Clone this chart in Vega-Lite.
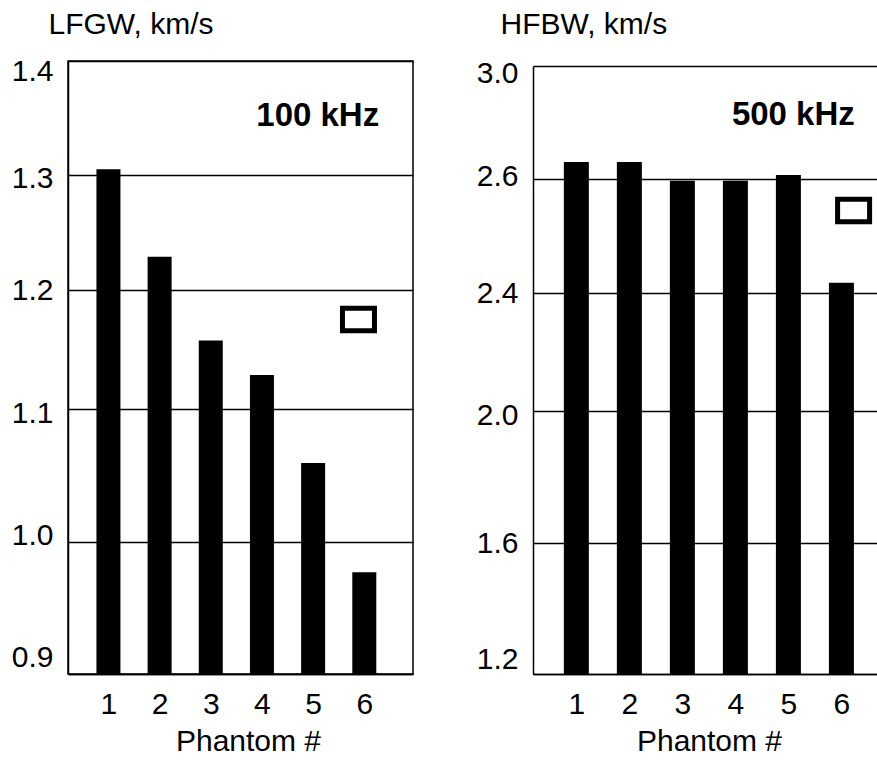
{
  "$schema": "https://vega.github.io/schema/vega-lite/v6.json",
  "padding": {"left": 10, "top": 8, "right": 0, "bottom": 0},
  "background": "white",
  "bounds": "flush",
  "spacing": 120,
  "config": {
    "font": "Liberation Sans",
    "axis": {
      "labelFont": "Liberation Sans",
      "titleFont": "Liberation Sans",
      "labelFontSize": 30,
      "titleFontSize": 30,
      "labelColor": "black",
      "titleColor": "black",
      "titleFontWeight": "normal",
      "ticks": false,
      "domainColor": "black",
      "domainWidth": 1.5,
      "gridColor": "black",
      "gridWidth": 1.5,
      "gridOpacity": 1
    }
  },
  "datasets": {
    "lfgw": [
      {"phantom": 1, "velocity": 1.305},
      {"phantom": 2, "velocity": 1.229},
      {"phantom": 3, "velocity": 1.1575},
      {"phantom": 4, "velocity": 1.1286},
      {"phantom": 5, "velocity": 1.0594},
      {"phantom": 6, "velocity": 0.977}
    ],
    "lfgw_note": [{"phantom": 5.09, "velocity": 1.352, "label": "100 kHz"}],
    "lfgw_box": [{"phantom": 5.886, "velocity": 1.1752}],
    "hfbw": [
      {"phantom": 1, "velocity": 2.66},
      {"phantom": 2, "velocity": 2.66},
      {"phantom": 3, "velocity": 2.597},
      {"phantom": 4, "velocity": 2.597},
      {"phantom": 5, "velocity": 2.614},
      {"phantom": 6, "velocity": 2.418}
    ],
    "hfbw_note": [{"phantom": 5.093, "velocity": 2.825, "label": "500 kHz"}],
    "hfbw_box": [{"phantom": 6.23, "velocity": 2.5447}]
  },
  "hconcat": [
    {
      "width": 345,
      "height": 613,
      "view": {"stroke": "black", "strokeWidth": 1.5},
      "layer": [
        {
          "data": {"name": "lfgw"},
          "mark": {"type": "bar", "color": "black", "size": 24},
          "encoding": {
            "x": {
              "field": "phantom", "type": "quantitative",
              "scale": {"domain": [0.3074, 6.854], "nice": false, "zero": false},
              "axis": {
                "values": [1, 2, 3, 4, 5, 6], "format": "d", "grid": false,
                "labelBaseline": "middle", "labelPadding": 30, "labelFlush": false, "labelOverlap": false,
                "title": "Phantom #", "titleX": 180, "titleY": 76, "titleAlign": "center",
                "titleBaseline": "alphabetic", "titleAnchor": null
              }
            },
            "y": {
              "field": "velocity", "type": "quantitative",
              "scale": {"domain": [0.9, 1.0, 1.1, 1.2, 1.3, 1.4], "range": [613, 481, 348, 229, 114, 0], "nice": false, "zero": false},
              "axis": {
                "values": [0.9, 1.0, 1.1, 1.2, 1.3, 1.4], "format": ".1f", "grid": true,
                "labelPadding": 15, "labelOverlap": false, "labelFlush": false, "labelBound": false,
                "labelOffset": {
                  "condition": [
                    {"test": "round(datum.value*10)==14", "value": 10},
                    {"test": "round(datum.value*10)==13", "value": 3},
                    {"test": "round(datum.value*10)==11", "value": 4},
                    {"test": "round(datum.value*10)==10", "value": -7},
                    {"test": "round(datum.value*10)==9", "value": -17}
                  ],
                  "value": 0
                },
                "title": "LFGW, km/s", "titleAngle": 0, "titleAlign": "left", "titleBaseline": "alphabetic",
                "titleX": -20, "titleY": -28, "titleAnchor": null
              }
            },
            "y2": {"datum": 0.9}
          }
        },
        {
          "data": {"name": "lfgw_note"},
          "mark": {"type": "text", "fontSize": 33, "fontWeight": "bold", "font": "Liberation Sans", "color": "black", "baseline": "middle"},
          "encoding": {
            "x": {"field": "phantom", "type": "quantitative"},
            "y": {"field": "velocity", "type": "quantitative"},
            "text": {"field": "label"}
          }
        },
        {
          "data": {"name": "lfgw_box"},
          "mark": {"type": "point", "shape": "M-1,-0.7H1V0.7H-1Z", "size": 1024, "filled": true, "fill": "white", "stroke": "black", "strokeWidth": 5, "opacity": 1},
          "encoding": {
            "x": {"field": "phantom", "type": "quantitative"},
            "y": {"field": "velocity", "type": "quantitative"}
          }
        }
      ]
    },
    {
      "width": 344,
      "height": 613,
      "view": {"stroke": null},
      "layer": [
        {
          "data": {"name": "hfbw"},
          "mark": {"type": "bar", "color": "black", "size": 25},
          "encoding": {
            "x": {
              "field": "phantom", "type": "quantitative",
              "scale": {"domain": [0.2766, 6.577], "nice": false, "zero": false},
              "axis": {
                "values": [1, 2, 3, 4, 5, 6], "format": "d", "grid": false,
                "labelBaseline": "middle", "labelPadding": 30, "labelFlush": false, "labelOverlap": false,
                "title": "Phantom #", "titleX": 176, "titleY": 76, "titleAlign": "center",
                "titleBaseline": "alphabetic", "titleAnchor": null
              }
            },
            "y": {
              "field": "velocity", "type": "quantitative",
              "scale": {"domain": [1.2, 1.6, 2.0, 2.4, 2.6, 3.0], "range": [613, 482, 350, 232, 118, 5], "nice": false, "zero": false},
              "axis": {
                "values": [1.2, 1.6, 2.0, 2.4, 2.6, 3.0], "format": ".1f", "grid": true,
                "labelPadding": 15, "labelOverlap": false, "labelFlush": false, "labelBound": false,
                "labelOffset": {
                  "condition": [
                    {"test": "round(datum.value*10)==30", "value": 7},
                    {"test": "round(datum.value*10)==26", "value": -3},
                    {"test": "round(datum.value*10)==20", "value": 4},
                    {"test": "round(datum.value*10)==12", "value": -15}
                  ],
                  "value": 0
                },
                "title": "HFBW, km/s", "titleAngle": 0, "titleAlign": "left", "titleBaseline": "alphabetic",
                "titleX": -33, "titleY": -28, "titleAnchor": null
              }
            },
            "y2": {"datum": 1.2}
          }
        },
        {
          "data": {"name": "hfbw_note"},
          "mark": {"type": "text", "fontSize": 33, "fontWeight": "bold", "font": "Liberation Sans", "color": "black", "baseline": "middle"},
          "encoding": {
            "x": {"field": "phantom", "type": "quantitative"},
            "y": {"field": "velocity", "type": "quantitative"},
            "text": {"field": "label"}
          }
        },
        {
          "data": {"name": "hfbw_box"},
          "mark": {"type": "point", "shape": "M-1,-0.7H1V0.7H-1Z", "size": 1024, "filled": true, "fill": "white", "stroke": "black", "strokeWidth": 5, "opacity": 1, "clip": true},
          "encoding": {
            "x": {"field": "phantom", "type": "quantitative"},
            "y": {"field": "velocity", "type": "quantitative"}
          }
        }
      ]
    }
  ]
}
